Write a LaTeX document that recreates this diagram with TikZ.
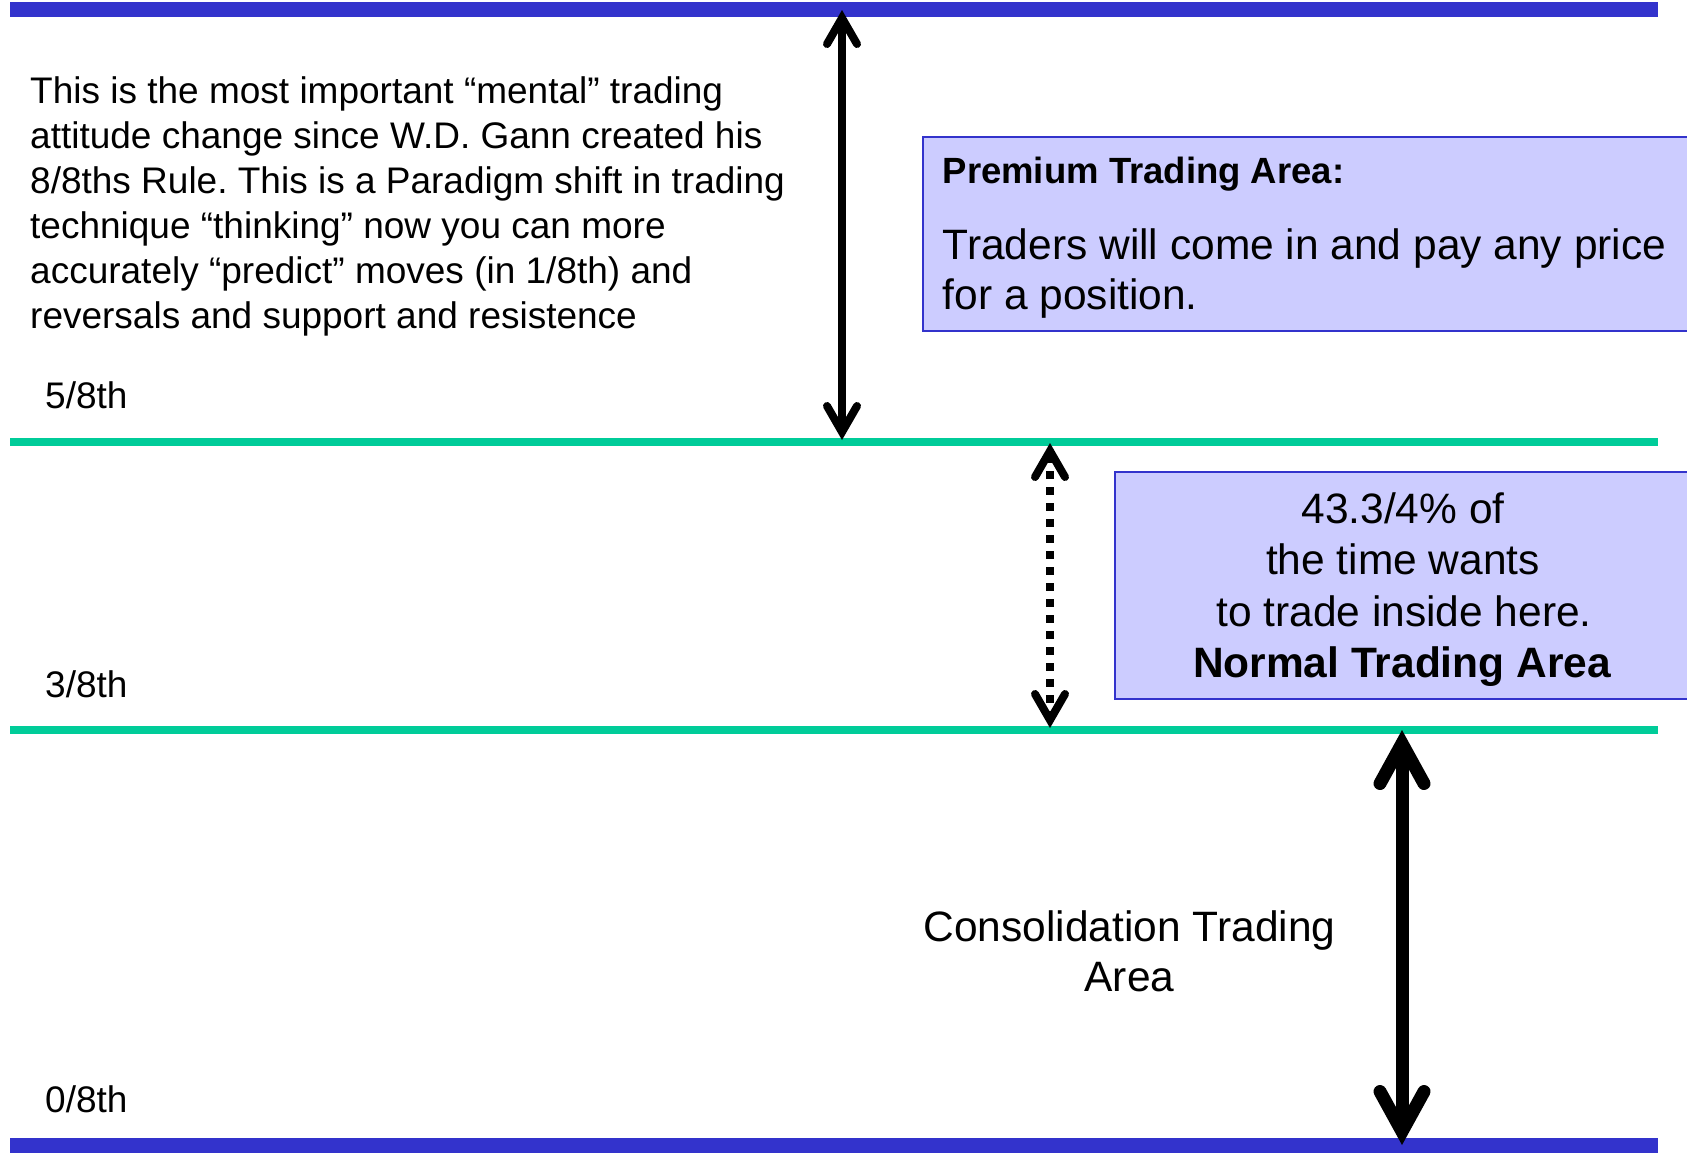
\documentclass[tikz,border=0pt]{standalone}
\usepackage{fontspec}
\setmainfont{Liberation Sans}
\usetikzlibrary{arrows.meta}
\frenchspacing
\definecolor{bandblue}{HTML}{3333CC}
\definecolor{levelgreen}{HTML}{00CC99}
\definecolor{boxfill}{HTML}{CCCCFF}
\tikzset{
  bandline/.style={draw=bandblue, line width=15pt},
  levelline/.style={draw=levelgreen, line width=8pt},
  areabox/.style={draw=bandblue, line width=2pt, fill=boxfill, inner sep=0pt, anchor=north west},
  txt/.style={inner sep=0pt, anchor=base west, font=\fontsize{37}{45}\selectfont},
  bigtxt/.style={inner sep=0pt, anchor=base, font=\fontsize{42.5}{50}\selectfont},
  boldtxt/.style={inner sep=0pt, anchor=base west, font=\fontsize{36.5}{45}\selectfont\bfseries},
  thinarrow/.style={line width=8pt, {Straight Barb[length=26pt,width=30pt,line cap=round]}-{Straight Barb[length=26pt,width=30pt,line cap=round]}},
  dotarrow/.style={line width=8pt, dash pattern=on 8pt off 8pt, {Straight Barb[length=26pt,width=30pt,line cap=round]}-{Straight Barb[length=26pt,width=30pt,line cap=round]}},
  thickarrow/.style={line width=13pt, {Straight Barb[length=40pt,width=44pt,line cap=round]}-{Straight Barb[length=40pt,width=44pt,line cap=round]}}
}
\begin{document}
\begin{tikzpicture}[x=1pt,y=-1pt]
\useasboundingbox (0,0) rectangle (1687,1152);
\clip (0,0) rectangle (1687,1152);
% level lines
\coordinate (top0) at (10,9.5);
\coordinate (top1) at (1658,9.5);
\coordinate (five0) at (10,441.7);
\coordinate (five1) at (1658,441.7);
\coordinate (three0) at (10,729.5);
\coordinate (three1) at (1658,729.5);
\coordinate (bot0) at (10,1145.5);
\coordinate (bot1) at (1658,1145.5);
\draw[bandline] (top0) -- (top1);
\draw[levelline] (five0) -- (five1);
\draw[levelline] (three0) -- (three1);
\draw[bandline] (bot0) -- (bot1);
% boxes
\node[areabox, minimum width=800pt, minimum height=194pt] (premBox) at (922,136) {};
\node[areabox, minimum width=800pt, minimum height=227pt] (normBox) at (1113.6,471.2) {};
% left paragraph
\node[txt] (p1) at (30,103.3) {This is the most important “mental” trading};
\node[txt] (p2) at (30,148.3) {attitude change since W.D. Gann created his};
\node[txt] (p3) at (30,193.3) {8/8ths Rule. This is a Paradigm shift in trading};
\node[txt] (p4) at (30,238.3) {technique “thinking” now you can more};
\node[txt] (p5) at (30,283.3) {accurately “predict” moves (in 1/8th) and};
\node[txt] (p6) at (30,328.3) {reversals and support and resistence};
% level labels
\node[txt] (l5) at (45,408.3) {5/8th};
\node[txt] (l3) at (45,697.2) {3/8th};
\node[txt] (l0) at (45,1112.7) {0/8th};
% premium box text
\node[boldtxt] (premTitle) at (942.5,183) {Premium Trading Area:};
\node[bigtxt, anchor=base west] (prem1) at (942.5,259) {Traders will come in and pay any price};
\node[bigtxt, anchor=base west] (prem2) at (942.5,309) {for a position.};
% normal box text
\node[bigtxt] (n1) at (1403,523) {43.3/4\% of};
\node[bigtxt] (n2) at (1403,574.5) {the time wants};
\node[bigtxt] (n3) at (1404,626) {to trade inside here.};
\node[bigtxt, font=\fontsize{42.5}{50}\selectfont\bfseries] (n4) at (1402,677) {Normal Trading Area};
% consolidation text
\node[bigtxt] (c1) at (1129.5,941.7) {Consolidation Trading};
\node[bigtxt] (c2) at (1129.5,991.7) {Area};
% arrows
\coordinate (a1top) at (842,10);
\coordinate (a1bot) at (842,440);
\coordinate (a2top) at (1050,443);
\coordinate (a2bot) at (1050,728);
\coordinate (a3top) at (1402,730);
\coordinate (a3bot) at (1402,1145);
\draw[thinarrow] (a1top) -- (a1bot);
\draw[dotarrow] (a2top) -- (a2bot);
\draw[thickarrow] (a3top) -- (a3bot);
\end{tikzpicture}
\end{document}
